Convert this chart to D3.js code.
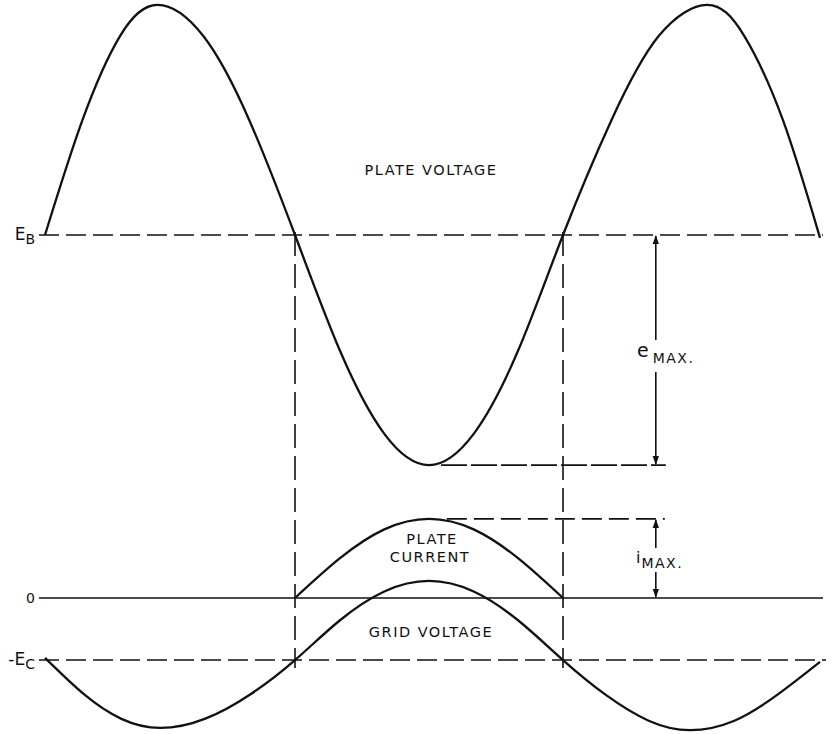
<!DOCTYPE html>
<html>
<head>
<meta charset="utf-8">
<script src="https://cdn.jsdelivr.net/npm/d3@7"></script>
<style>
  body { margin: 0; background: #fff; }
  svg { display: block; }
  text { font-family: "DejaVu Sans", sans-serif; fill: #111; }
</style>
</head>
<body>
<svg id="chart" width="835" height="734"></svg>
<script>
// Data: phase in degrees, level in arbitrary units (0 = zero line, 100 = E_B)
const plateVoltage = [
    [0, 100], [27, 131.7], [54, 154.8], [81, 163.4], [114, 154.8], [147, 131.7],
    [180, 100], [210, 68.3], [240, 45.2], [270, 36.6], [300, 45.2], [330, 68.3],
    [360, 100], [394, 131.7], [427, 154.8], [461, 163.4], [487, 154.8], [514, 131.7],
    [540, 99.2]
];
const plateCurrent = [
    [180, 0], [210, 10.9], [240, 18.9], [270, 21.8], [300, 18.9], [330, 10.9], [360, 0]
];
const gridVoltage = [
    [0, -16.5], [28, -26.5], [55, -33.3], [83, -35.8], [115, -33.3], [148, -26.5],
    [180, -17.1], [210, -6.2], [240, 1.8], [270, 4.7], [300, 1.8], [330, -6.2],
    [360, -17.1], [390, -26.7], [420, -33.8], [449, -36.4], [480, -33.8], [510, -26.7],
    [540, -17.6]
];

// reference levels and their labels
const levelValues = [100, 0, -17.1];
const levelNames = ["E", "0", "-E"];
const levelSubs = ["B", "", "C"];
const levelDashed = [true, false, true];

// crossing phases (vertical dashed lines)
const crossPhases = [180, 360];

// maxima used for e_max / i_max
const plateTrough = 36.6;
const currentPeak = 21.8;
const arrowPhase = 425;

const svg = d3.select("#chart");

const x = d3.scaleLinear().domain([0, 180, 360, 540]).range([45, 295, 563, 820]);
const y = d3.scaleLinear().domain([0, 100]).range([598, 235]);

// arrow marker
svg.append("defs").append("marker")
    .attr("id", "arrow")
    .attr("viewBox", "0 0 10 10")
    .attr("refX", 9).attr("refY", 5)
    .attr("markerWidth", 9).attr("markerHeight", 9)
    .attr("markerUnits", "userSpaceOnUse")
    .attr("orient", "auto")
    .append("path")
    .attr("d", "M0,1.5 L10,5 L0,8.5 Z")
    .attr("fill", "#111");

// horizontal level lines
svg.append("g")
    .selectAll("line")
    .data(levelValues)
    .enter()
    .append("line")
    .attr("x1", x(0) - 6)
    .attr("x2", (d, i) => x(540) + (i === 2 ? 6 : 3))
    .attr("y1", d => y(d))
    .attr("y2", d => y(d))
    .attr("stroke", "#111")
    .attr("stroke-width", 1.6)
    .attr("stroke-dasharray", (d, i) => levelDashed[i] ? "20,7" : null);

// level labels
levelValues.forEach(function (v, i) {
    const t = svg.append("text")
        .attr("x", x(0) - 10)
        .attr("y", y(v) + 5)
        .attr("text-anchor", "end")
        .style("font-size", i === 1 ? "14px" : "17px");
    t.append("tspan").text(levelNames[i]);
    if (levelSubs[i]) {
        t.append("tspan").attr("dy", 4).style("font-size", "14px").text(levelSubs[i]);
    }
});

// vertical dashed lines at the crossings
svg.append("g")
    .selectAll("line")
    .data(crossPhases)
    .enter()
    .append("line")
    .attr("x1", d => x(d))
    .attr("x2", d => x(d))
    .attr("y1", y(100) - 3)
    .attr("y2", y(-19.3))
    .attr("stroke", "#111")
    .attr("stroke-width", 1.6)
    .attr("stroke-dasharray", "24,8");

// e max / i max guide lines
svg.append("line")
    .attr("x1", x(270) + 12).attr("x2", x(arrowPhase) + 10)
    .attr("y1", y(plateTrough)).attr("y2", y(plateTrough))
    .attr("stroke", "#111").attr("stroke-width", 1.6)
    .attr("stroke-dasharray", "26,4");
svg.append("line")
    .attr("x1", x(282)).attr("x2", x(arrowPhase) + 9)
    .attr("y1", y(currentPeak)).attr("y2", y(currentPeak))
    .attr("stroke", "#111").attr("stroke-width", 1.6)
    .attr("stroke-dasharray", "20,7");

// double arrows with a gap for the label
function dimArrow(top, bottom, gapTop, gapBottom) {
    const ax = x(arrowPhase);
    svg.append("line")
        .attr("x1", ax).attr("x2", ax)
        .attr("y1", gapTop).attr("y2", y(top) + 1)
        .attr("stroke", "#111").attr("stroke-width", 1.6)
        .attr("marker-end", "url(#arrow)");
    svg.append("line")
        .attr("x1", ax).attr("x2", ax)
        .attr("y1", gapBottom).attr("y2", y(bottom) - 1)
        .attr("stroke", "#111").attr("stroke-width", 1.6)
        .attr("marker-end", "url(#arrow)");
}
dimArrow(100, plateTrough, 340, 372);
dimArrow(currentPeak, 0, 548, 572);

// curves
const line = d3.line()
    .x(d => x(d[0]))
    .y(d => y(d[1]))
    .curve(d3.curveNatural);

[plateVoltage, plateCurrent, gridVoltage].forEach(function (series) {
    svg.append("path")
        .datum(series)
        .attr("d", line)
        .attr("fill", "none")
        .attr("stroke", "#111")
        .attr("stroke-width", 2.3)
        .attr("stroke-linejoin", "round");
});

// curve labels
const labelStyle = function (sel) {
    sel.attr("text-anchor", "middle")
        .style("font-size", "14.5px")
        .style("letter-spacing", "1.5px");
};
svg.append("text").attr("x", 431).attr("y", 175).text("PLATE VOLTAGE").call(labelStyle);
svg.append("text").attr("x", 432).attr("y", 544).text("PLATE").call(labelStyle);
svg.append("text").attr("x", 430).attr("y", 562).text("CURRENT").call(labelStyle);
svg.append("text").attr("x", 431).attr("y", 637).text("GRID VOLTAGE").call(labelStyle);

// e max label
const eLab = svg.append("text").attr("x", 637).attr("y", 357);
eLab.append("tspan").style("font-size", "19px").text("e");
eLab.append("tspan").attr("dx", 4).attr("dy", 6).style("font-size", "14px")
    .style("letter-spacing", "1.5px").text("MAX.");

// i max label
const iLab = svg.append("text").attr("x", 636).attr("y", 563);
iLab.append("tspan").style("font-size", "16px").text("i");
iLab.append("tspan").attr("dx", 1).attr("dy", 5).style("font-size", "14px")
    .style("letter-spacing", "1.5px").text("MAX.");
</script>
</body>
</html>
